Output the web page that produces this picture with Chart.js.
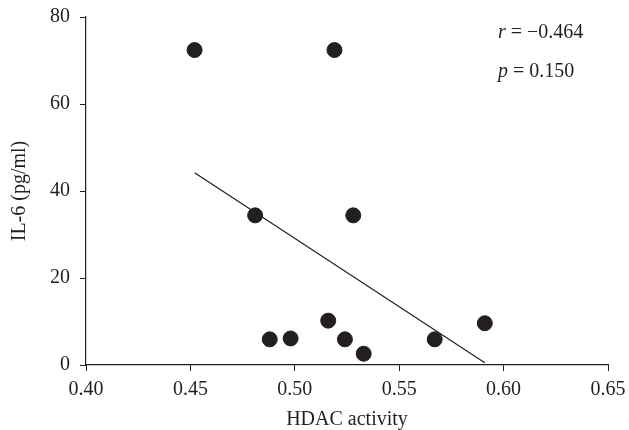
<!DOCTYPE html>
<html>
<head>
<meta charset="utf-8">
<script src="https://cdn.jsdelivr.net/npm/chart.js@4/dist/chart.umd.min.js"></script>
<style>
  html, body { margin: 0; padding: 0; background: #fff; }
  #wrap { width: 629px; height: 430px; }
</style>
</head>
<body>
<div id="wrap"><canvas id="chart" width="629" height="430"></canvas></div>
<script>
// HDAC activity vs IL-6
const hdacActivity = [0.452, 0.519, 0.481, 0.528, 0.488, 0.498, 0.516, 0.524, 0.533, 0.567, 0.591];
const il6Values = [72.4, 72.4, 34.4, 34.4, 5.9, 6.1, 10.2, 5.9, 2.6, 5.9, 9.6];

// fitted line end points
const fitX = [0.452, 0.591];
const fitY = [44.2, 0.5];

const xTicks = [0.40, 0.45, 0.50, 0.55, 0.60, 0.65];
const yTicks = [0, 20, 40, 60, 80];
const statsText = [["r", " = \u22120.464"], ["p", " = 0.150"]];

const ink = "#231f20";
const serif = "'Liberation Serif', 'DejaVu Serif', serif";

Chart.defaults.font.family = serif;
Chart.defaults.font.size = 20;
Chart.defaults.color = ink;

const statsPlugin = {
  id: "stats",
  afterDraw(chart) {
    const ctx = chart.ctx;
    const area = chart.chartArea;
    ctx.save();
    ctx.fillStyle = ink;
    ctx.textBaseline = "middle";
    statsText.forEach((parts, i) => {
      const x = area.right - 110;
      const y = area.top + 16 + i * 39;
      ctx.font = "italic 20px " + serif;
      ctx.fillText(parts[0], x, y);
      const w = ctx.measureText(parts[0]).width;
      ctx.font = "20px " + serif;
      ctx.fillText(parts[1], x + w, y);
    });
    ctx.restore();
  },
};

new Chart(document.getElementById("chart"), {
  type: "scatter",
  data: {
    datasets: [
      {
        label: "IL-6",
        data: hdacActivity.map((x, i) => ({ x, y: il6Values[i] })),
        backgroundColor: ink,
        borderColor: ink,
        pointRadius: 7.5,
        pointHoverRadius: 7.5,
      },
      {
        label: "fit",
        data: fitX.map((x, i) => ({ x, y: fitY[i] })),
        showLine: true,
        borderColor: ink,
        borderWidth: 1.2,
        pointRadius: 0,
        fill: false,
      },
    ],
  },
  options: {
    responsive: false,
    animation: false,
    layout: { padding: { top: 17, right: 21, left: 0, bottom: 0 } },
    plugins: {
      legend: { display: false },
      tooltip: { enabled: false },
    },
    scales: {
      x: {
        type: "linear",
        min: 0.40,
        max: 0.65,
        afterBuildTicks: (scale) => {
          scale.ticks = xTicks.map((value) => ({ value }));
        },
        afterFit: (scale) => {
          scale.height = 65;
          scale.paddingLeft = 0;
          scale.paddingRight = 0;
        },
        ticks: {
          color: ink,
          padding: 7,
          callback: (v) => v.toFixed(2),
        },
        grid: { display: true, drawOnChartArea: false, drawTicks: true, tickLength: 6, color: ink, lineWidth: 1 },
        border: { display: true, color: ink, width: 1.2 },
        title: { display: true, text: "HDAC activity", color: ink, font: { size: 20, lineHeight: 1 }, padding: { top: 0, bottom: 0 } },
      },
      y: {
        type: "linear",
        min: 0,
        max: 80,
        afterBuildTicks: (scale) => {
          scale.ticks = yTicks.map((value) => ({ value }));
        },
        afterFit: (scale) => {
          scale.width = 86;
          scale.paddingTop = 0;
          scale.paddingBottom = 0;
        },
        ticks: { color: ink, padding: 10 },
        grid: { display: true, drawOnChartArea: false, drawTicks: true, tickLength: 6, color: ink, lineWidth: 1 },
        border: { display: true, color: ink, width: 1.2 },
        title: { display: true, text: "IL-6 (pg/ml)", color: ink, font: { size: 20 }, padding: { top: 8, bottom: 0 } },
      },
    },
  },
  plugins: [statsPlugin],
});
</script>
</body>
</html>
